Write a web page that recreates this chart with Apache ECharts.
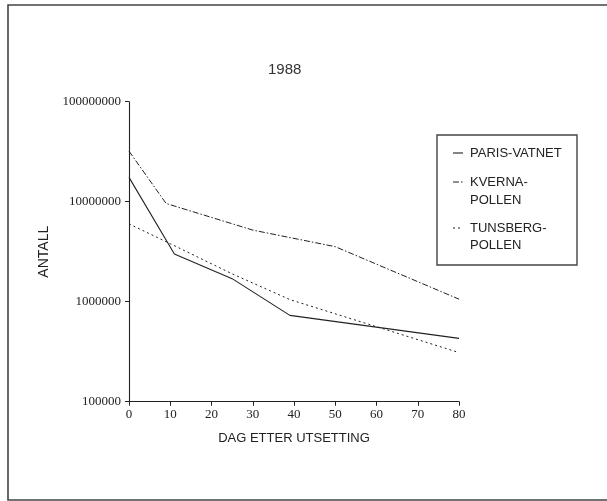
<!DOCTYPE html>
<html>
<head>
<meta charset="utf-8">
<script src="https://cdn.jsdelivr.net/npm/echarts@6/dist/echarts.min.js"></script>
<style>
  html, body { margin: 0; padding: 0; background: #fff; }
  #chart { width: 607px; height: 501px; }
</style>
</head>
<body>
<div id="chart"></div>
<script>
// Days after release and counts per locality (log scale)
const seriesNames = ['PARIS-VATNET', 'KVERNA-\nPOLLEN', 'TUNSBERG-\nPOLLEN'];
const parisDays = [0, 11, 25, 39, 80];
const parisVals = [17500000, 3000000, 1700000, 730000, 430000];
const kvernaDays = [0, 9, 30, 50, 80];
const kvernaVals = [32000000, 9600000, 5200000, 3550000, 1060000];
const tunsbergDays = [0, 10, 25, 39, 80];
const tunsbergVals = [6000000, 3800000, 1900000, 1050000, 310000];
const xTicks = [0, 10, 20, 30, 40, 50, 60, 70, 80];
const yTicks = [100000, 1000000, 10000000, 100000000];

const ink = '#222';
const dashStyles = ['solid', [6, 2, 1.5, 2], [2, 3]];

function pairs(xs, ys) { return xs.map((x, i) => [x, ys[i]]); }

const chart = echarts.init(document.getElementById('chart'), null, { renderer: 'canvas' });

// legend box content, one row per text line
const legendLines = [];
const legendY = [[153], [182, 200], [228, 245]];
seriesNames.forEach((name, i) => {
  const rows = name.split('\n');
  legendLines.push({
    type: 'line',
    shape: { x1: 453, y1: legendY[i][0], x2: 463, y2: legendY[i][0] },
    style: { stroke: ink, lineWidth: 1.1, lineDash: dashStyles[i] === 'solid' ? null : dashStyles[i] }
  });
  rows.forEach((r, k) => {
    legendLines.push({
      type: 'text',
      x: 470, y: legendY[i][k],
      style: { text: r, fill: ink, font: '13px "Liberation Sans", sans-serif', verticalAlign: 'middle', align: 'left' }
    });
  });
});

chart.setOption({
  backgroundColor: '#fff',
  animation: false,
  title: {
    text: '1988',
    left: 263, top: 57,
    textStyle: { fontFamily: 'Liberation Sans', fontSize: 15, fontWeight: 'normal', color: '#333' }
  },
  grid: { left: 129, right: 148, top: 101.7, bottom: 99.3 },
  xAxis: {
    type: 'value', min: xTicks[0], max: xTicks[xTicks.length - 1], interval: 10,
    name: 'DAG ETTER UTSETTING', nameLocation: 'middle', nameGap: 30,
    nameTextStyle: { fontFamily: 'Liberation Sans', fontSize: 13, color: ink },
    axisLine: { lineStyle: { color: ink, width: 1.1 } },
    axisTick: { show: true, length: 4, lineStyle: { color: ink } },
    axisLabel: { margin: 6, fontFamily: 'Liberation Serif', fontSize: 13, color: ink },
    splitLine: { show: false }
  },
  yAxis: {
    type: 'log', logBase: 10, min: yTicks[0], max: yTicks[yTicks.length - 1],
    name: 'ANTALL', nameLocation: 'middle', nameGap: 72, nameRotate: 90,
    nameTextStyle: { fontFamily: 'Liberation Sans', fontSize: 14, color: ink },
    axisLine: { show: true, lineStyle: { color: ink, width: 1.1 } },
    axisTick: { show: true, length: 4, lineStyle: { color: ink } },
    axisLabel: { margin: 8, fontFamily: 'Liberation Serif', fontSize: 13, color: ink,
      formatter: v => String(Math.round(v)) },
    splitLine: { show: false }
  },
  series: [
    { name: seriesNames[0], type: 'line', data: pairs(parisDays, parisVals), symbol: 'none',
      lineStyle: { color: ink, width: 1.1, type: dashStyles[0] } },
    { name: seriesNames[1], type: 'line', data: pairs(kvernaDays, kvernaVals), symbol: 'none',
      lineStyle: { color: ink, width: 1, type: dashStyles[1] } },
    { name: seriesNames[2], type: 'line', data: pairs(tunsbergDays, tunsbergVals), symbol: 'none',
      lineStyle: { color: ink, width: 1, type: dashStyles[2] } }
  ],
  graphic: [
    // page frame
    { type: 'polyline', shape: { points: [[607, 5], [8, 5], [8, 500], [607, 500]] },
      style: { stroke: '#444', lineWidth: 1.6, fill: null } },
    // legend box
    { type: 'rect', shape: { x: 437, y: 135, width: 140, height: 130 },
      style: { stroke: '#444', lineWidth: 1.4, fill: '#fff' } },
    ...legendLines
  ]
});
</script>
</body>
</html>
